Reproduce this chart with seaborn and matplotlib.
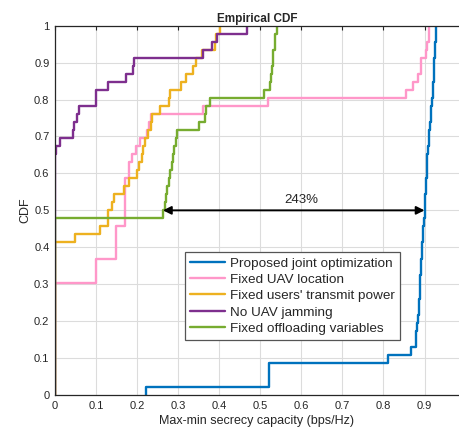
import numpy as np
import pandas as pd
import matplotlib
matplotlib.use("Agg")
import matplotlib.pyplot as plt
import seaborn as sns

# 46 channel realizations per scheme
proposed = [0.222, 0.522, 0.522, 0.522, 0.810, 0.866, 0.879,
            0.880, 0.882, 0.884, 0.886, 0.887, 0.888, 0.889, 0.890,
            0.891, 0.892, 0.894, 0.895, 0.896, 0.897, 0.898, 0.900,
            0.901, 0.902, 0.903, 0.904, 0.905, 0.906, 0.907, 0.909,
            0.910, 0.912, 0.913, 0.915, 0.917, 0.918, 0.920, 0.921,
            0.922, 0.923, 0.924, 0.925, 0.926, 0.927, 0.928]
fixed_location = [0.0] * 14 + [0.100] * 3 + [0.148] * 4 + [0.170] * 6 + [
    0.180, 0.180, 0.188, 0.197, 0.207, 0.223, 0.230, 0.235,
    0.361, 0.519, 0.854, 0.873, 0.884, 0.892, 0.892, 0.903,
    0.906, 0.911, 0.912]
fixed_power = [0.0] * 19 + [
    0.049, 0.110, 0.128, 0.129, 0.138, 0.144, 0.168, 0.180,
    0.200, 0.204, 0.211, 0.215, 0.220, 0.227, 0.235, 0.236,
    0.255, 0.277, 0.281, 0.308, 0.320, 0.335, 0.343, 0.357,
    0.389, 0.393, 0.401]
no_jamming = [0.0] * 30 + [
    0.002, 0.011, 0.045, 0.047, 0.054, 0.059, 0.100, 0.101,
    0.130, 0.172, 0.189, 0.192, 0.361, 0.383, 0.395, 0.468]
fixed_offloading = [0.0] * 22 + [
    0.262, 0.267, 0.270, 0.274, 0.278, 0.281, 0.284, 0.288,
    0.291, 0.294, 0.298, 0.351, 0.365, 0.368, 0.377, 0.510,
    0.523, 0.526, 0.528, 0.530, 0.532, 0.535, 0.537, 0.540]

labels = ["Proposed joint optimization", "Fixed UAV location",
          "Fixed users' transmit power", "No UAV jamming",
          "Fixed offloading variables"]
colors = ["#0072BD", "#FF97C9", "#EDB120", "#7E2F8E", "#77AC30"]
series = [proposed, fixed_location, fixed_power, no_jamming, fixed_offloading]

gain_from = 0.263
gain_to = 0.900
gain_level = 0.5

sns.set_style("white")
plt.rcParams["font.family"] = ["Liberation Sans", "DejaVu Sans"]

fig = plt.figure(figsize=(4.59, 4.30), dpi=100)
ax = fig.add_axes([0.1198, 0.0814, 0.8802, 0.8588])

for vals, lab, col in zip(series, labels, colors):
    df = pd.DataFrame({"x": vals})
    sns.ecdfplot(data=df, x="x", ax=ax, color=col, lw=1.7, label=lab)

ax.annotate("", xy=(gain_to, gain_level), xytext=(gain_from, gain_level),
            arrowprops=dict(arrowstyle="<|-|>", color="black", lw=1.4,
                            mutation_scale=12, shrinkA=0, shrinkB=0))
ax.text(0.600, 0.512, "243%", ha="center", va="bottom", fontsize=9.5)

ax.set_xlim(0, 0.984)
ax.set_ylim(0, 1)
ax.set_xticks(np.arange(0, 0.95, 0.1))
ax.set_xticklabels(["0", "0.1", "0.2", "0.3", "0.4", "0.5", "0.6", "0.7", "0.8", "0.9"])
ax.set_yticks(np.arange(0, 1.05, 0.1))
ax.set_yticklabels(["0", "0.1", "0.2", "0.3", "0.4", "0.5", "0.6", "0.7", "0.8", "0.9", "1"])
ax.grid(True, color="#dcdcdc", lw=0.8)
ax.tick_params(direction="in", length=3, labelsize=8, colors="#262626",
               top=True, right=False, pad=4)
for side in ["left", "bottom", "top"]:
    ax.spines[side].set_color("#262626")
    ax.spines[side].set_linewidth(0.9)
ax.spines["right"].set_visible(False)

ax.set_title("Empirical CDF", fontsize=8.5, fontweight="bold", pad=3)
ax.set_xlabel("Max-min secrecy capacity (bps/Hz)", fontsize=9, labelpad=3)
ax.set_ylabel("CDF", fontsize=9, labelpad=2)

leg = ax.legend(loc="upper left", bbox_to_anchor=(0.322, 0.388), fontsize=9.7,
                frameon=True, fancybox=False, framealpha=1, edgecolor="#555555",
                handlelength=2.6, handletextpad=0.3, labelspacing=0.29,
                borderpad=0.4, borderaxespad=0)
leg.get_frame().set_linewidth(0.9)

fig.savefig("out.png", dpi=100)
